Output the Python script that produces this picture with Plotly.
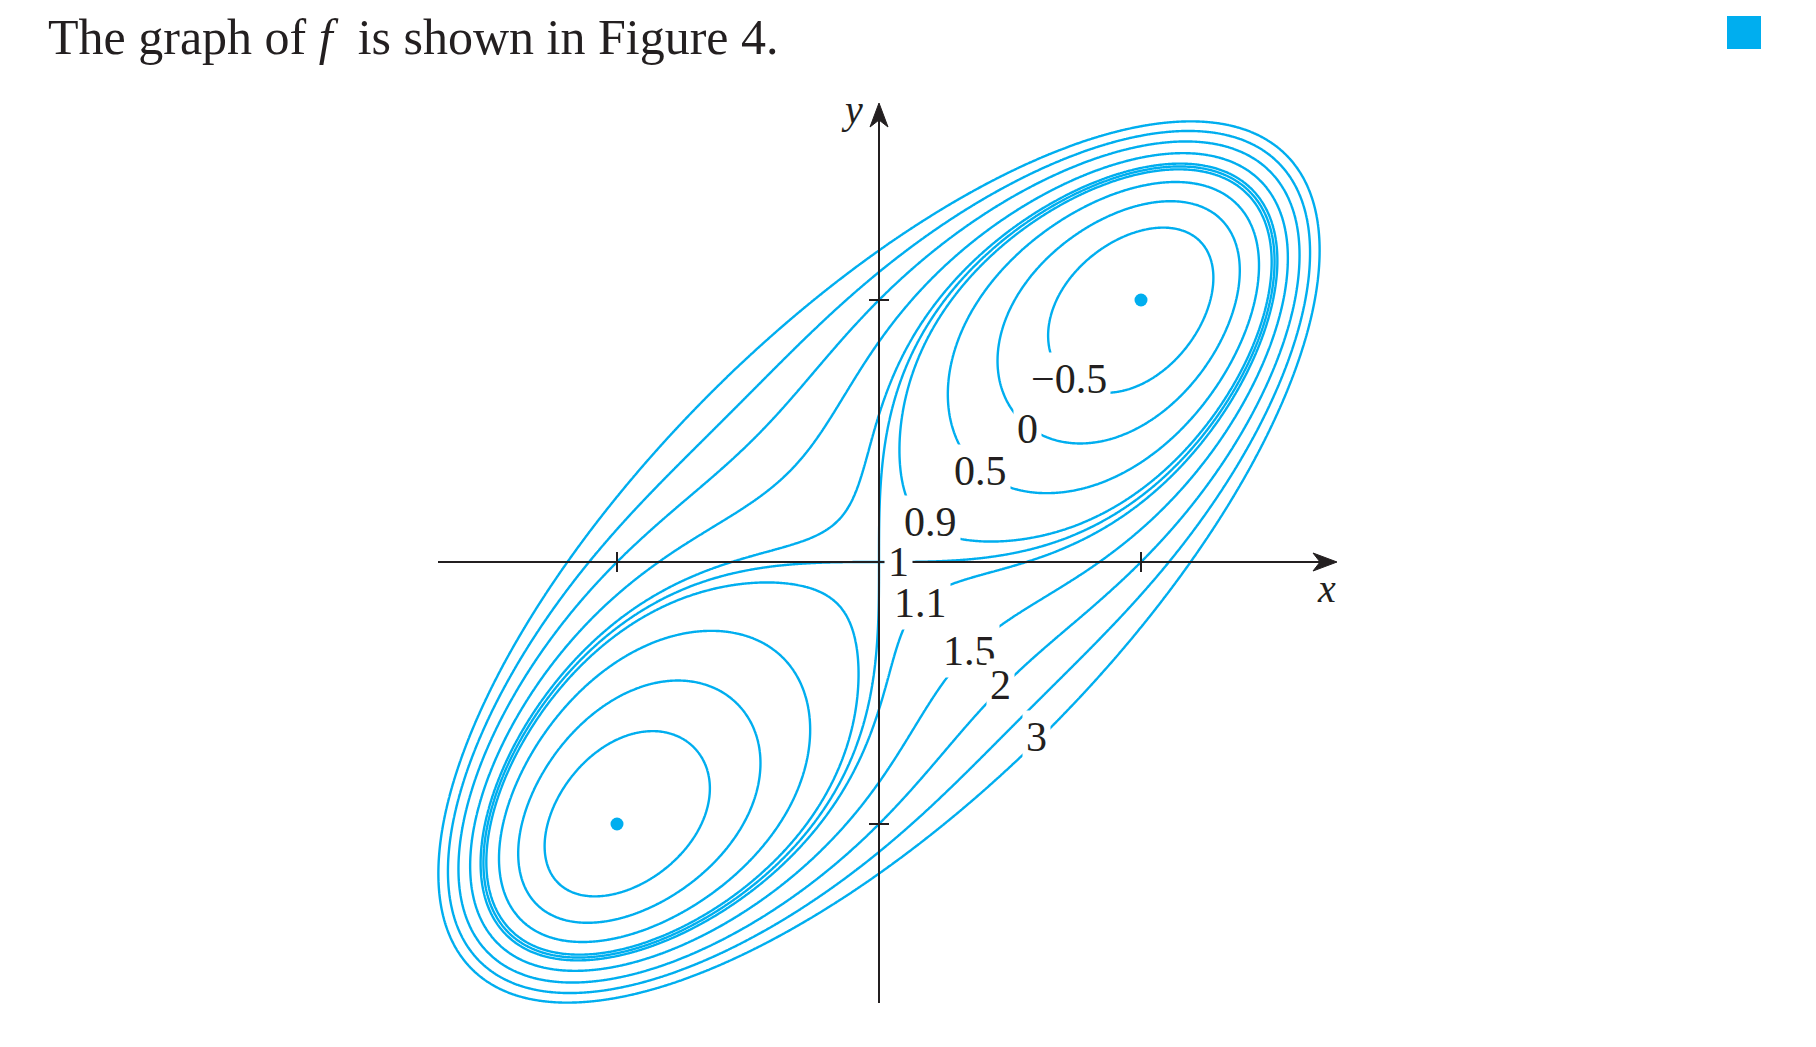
import numpy as np
import plotly.graph_objects as go

# ---- data ----
levels = [-0.5, 0, 0.5, 0.9, 1, 1.1, 1.5, 2, 2.5, 3]
label_text = ["\u22120.5", "0", "0.5", "0.9", "1", "1.1", "1.5", "2", "3"]
label_x = [0.725, 0.568, 0.389, 0.196, 0.074, 0.157, 0.344, 0.463, 0.603]
label_y = [0.700, 0.509, 0.347, 0.151, 0.000, -0.155, -0.340, -0.470, -0.667]
crit_x = [1, -1]
crit_y = [1, -1]
tick_vals = [-1, 1]
grid_lim = 2.3
grid_n = 921

# ---- styling / geometry ----
CYAN = "#00AEEF"
INK = "#231F20"
W, H = 1800, 1031
OFF = 8                 # default body margin of the page
ORIGIN = (879, 562)     # page pixel of (0,0)
S = 262.0               # pixels per unit


def px2x(px):
    return (px - ORIGIN[0]) / S


def px2y(py):
    return (ORIGIN[1] - py) / S


x_range = [px2x(OFF), px2x(OFF + W)]
y_range = [px2y(OFF + H), px2y(OFF)]

xs = np.linspace(-grid_lim, grid_lim, grid_n)
ys = np.linspace(-grid_lim, grid_lim, grid_n)
X, Y = np.meshgrid(xs, ys)
Z = X**4 + Y**4 - 4 * X * Y + 1

fig = go.Figure()
for lv in levels:
    fig.add_trace(go.Contour(
        x=xs, y=ys, z=Z, autocontour=False,
        contours=dict(start=lv, end=lv, size=1, coloring="lines", showlabels=False),
        colorscale=[[0, CYAN], [1, CYAN]], showscale=False,
        line=dict(width=2.4, smoothing=1), hoverinfo="skip",
    ))

fig.add_trace(go.Scatter(x=crit_x, y=crit_y, mode="markers",
                         marker=dict(size=13, color=CYAN), hoverinfo="skip"))

shapes = []
# axes
x_tail, x_tip = px2x(438), px2x(1337)
y_tail, y_tip = px2y(1003), px2y(103)
shapes.append(dict(type="line", x0=x_tail, y0=0, x1=x_tip - 12 / S, y1=0,
                   line=dict(color=INK, width=2)))
shapes.append(dict(type="line", x0=0, y0=y_tail, x1=0, y1=y_tip - 12 / S,
                   line=dict(color=INK, width=2)))
# arrow heads
L, Wd, N = 24 / S, 9 / S, 17 / S
shapes.append(dict(type="path", fillcolor=INK, line=dict(color=INK, width=1),
                   path=f"M {x_tip},0 L {x_tip - L},{Wd} L {x_tip - N},0 L {x_tip - L},{-Wd} Z"))
shapes.append(dict(type="path", fillcolor=INK, line=dict(color=INK, width=1),
                   path=f"M 0,{y_tip} L {Wd},{y_tip - L} L 0,{y_tip - N} L {-Wd},{y_tip - L} Z"))
# ticks
tl = 10 / S
for t in tick_vals:
    shapes.append(dict(type="line", x0=t, y0=-tl, x1=t, y1=tl, line=dict(color=INK, width=2)))
    shapes.append(dict(type="line", x0=-tl, y0=t, x1=tl, y1=t, line=dict(color=INK, width=2)))
# blue end-of-example square
shapes.append(dict(type="rect", x0=px2x(1727), x1=px2x(1761), y0=px2y(49), y1=px2y(16),
                   fillcolor=CYAN, line=dict(width=0)))

ann = []
for t, lx, ly in zip(label_text, label_x, label_y):
    ann.append(dict(x=lx, y=ly, text=t, showarrow=False, bgcolor="white", borderpad=3,
                    font=dict(family="Liberation Serif", size=42, color=INK)))
ann.append(dict(x=px2x(1326), y=px2y(588), text="<i>x</i>", showarrow=False,
                font=dict(family="Liberation Serif", size=40, color=INK)))
ann.append(dict(x=px2x(852), y=px2y(109), text="<i>y</i>", showarrow=False,
                font=dict(family="Liberation Serif", size=40, color=INK)))
ann.append(dict(x=px2x(47), y=px2y(OFF), text="The graph of <i>f</i>  is shown in Figure 4.",
                showarrow=False, xanchor="left", yanchor="top", borderpad=0,
                font=dict(family="Liberation Serif", size=50, color=INK)))

fig.update_layout(
    width=W, height=H, margin=dict(l=0, r=0, t=0, b=0),
    paper_bgcolor="white", plot_bgcolor="white", showlegend=False,
    xaxis=dict(range=x_range, visible=False, fixedrange=True),
    yaxis=dict(range=y_range, visible=False, fixedrange=True),
    shapes=shapes, annotations=ann,
)
fig.write_html("out.html")
